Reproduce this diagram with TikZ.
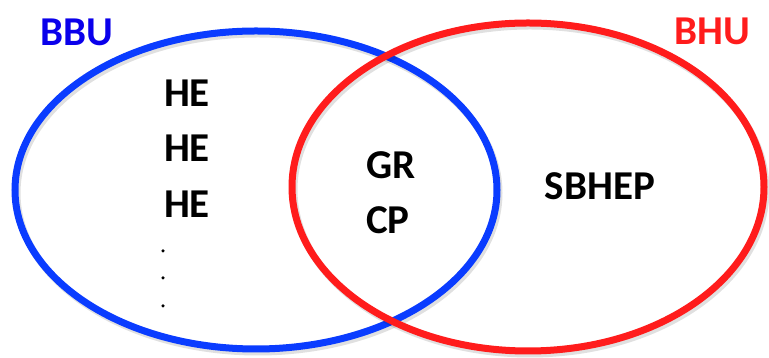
\documentclass[tikz,border=0pt]{standalone}
\usepackage{fontspec}
\setmainfont{Carlito}
\definecolor{bbublue}{RGB}{10,60,255}
\definecolor{bbutext}{RGB}{10,0,235}
\definecolor{bhured}{RGB}{255,28,28}
\begin{document}
\begin{tikzpicture}[x=1pt,y=1pt,
  ring/.style={line width=7pt},
  shade/.style={line width=7pt, draw=black, opacity=0.12},
  item/.style={font=\fontsize{41}{44}\selectfont\bfseries, inner sep=0pt},
  title/.style={font=\fontsize{41}{44}\selectfont\bfseries, inner sep=0pt},
  dotmark/.style={circle, fill=black, inner sep=0pt, minimum size=3.5pt}]
\useasboundingbox (0,0) rectangle (769,358);
\draw[shade] (258,165) ellipse [x radius=241, y radius=159];
\draw[ring, bbublue] (256,168) ellipse [x radius=241, y radius=159];
\draw[shade] (530,168) ellipse [x radius=236, y radius=164];
\draw[ring, bhured] (528,171) ellipse [x radius=236, y radius=164];
\node[title, text=bbutext] (bbu) at (77,326) {BBU};
\node[title, text=bhured] (bhu) at (712,327) {BHU};
\node[item] (he1) at (187,265) {HE};
\node[item] (he2) at (187,210) {HE};
\node[item] (he3) at (187,154) {HE};
\node[dotmark] (d1) at (163,107) {};
\node[dotmark] (d2) at (163,80) {};
\node[dotmark] (d3) at (163,52) {};
\node[item] (gr) at (391,193) {GR};
\node[item] (cp) at (388,138) {CP};
\node[item] (sbhep) at (600,172) {SBHEP};
\end{tikzpicture}
\end{document}
